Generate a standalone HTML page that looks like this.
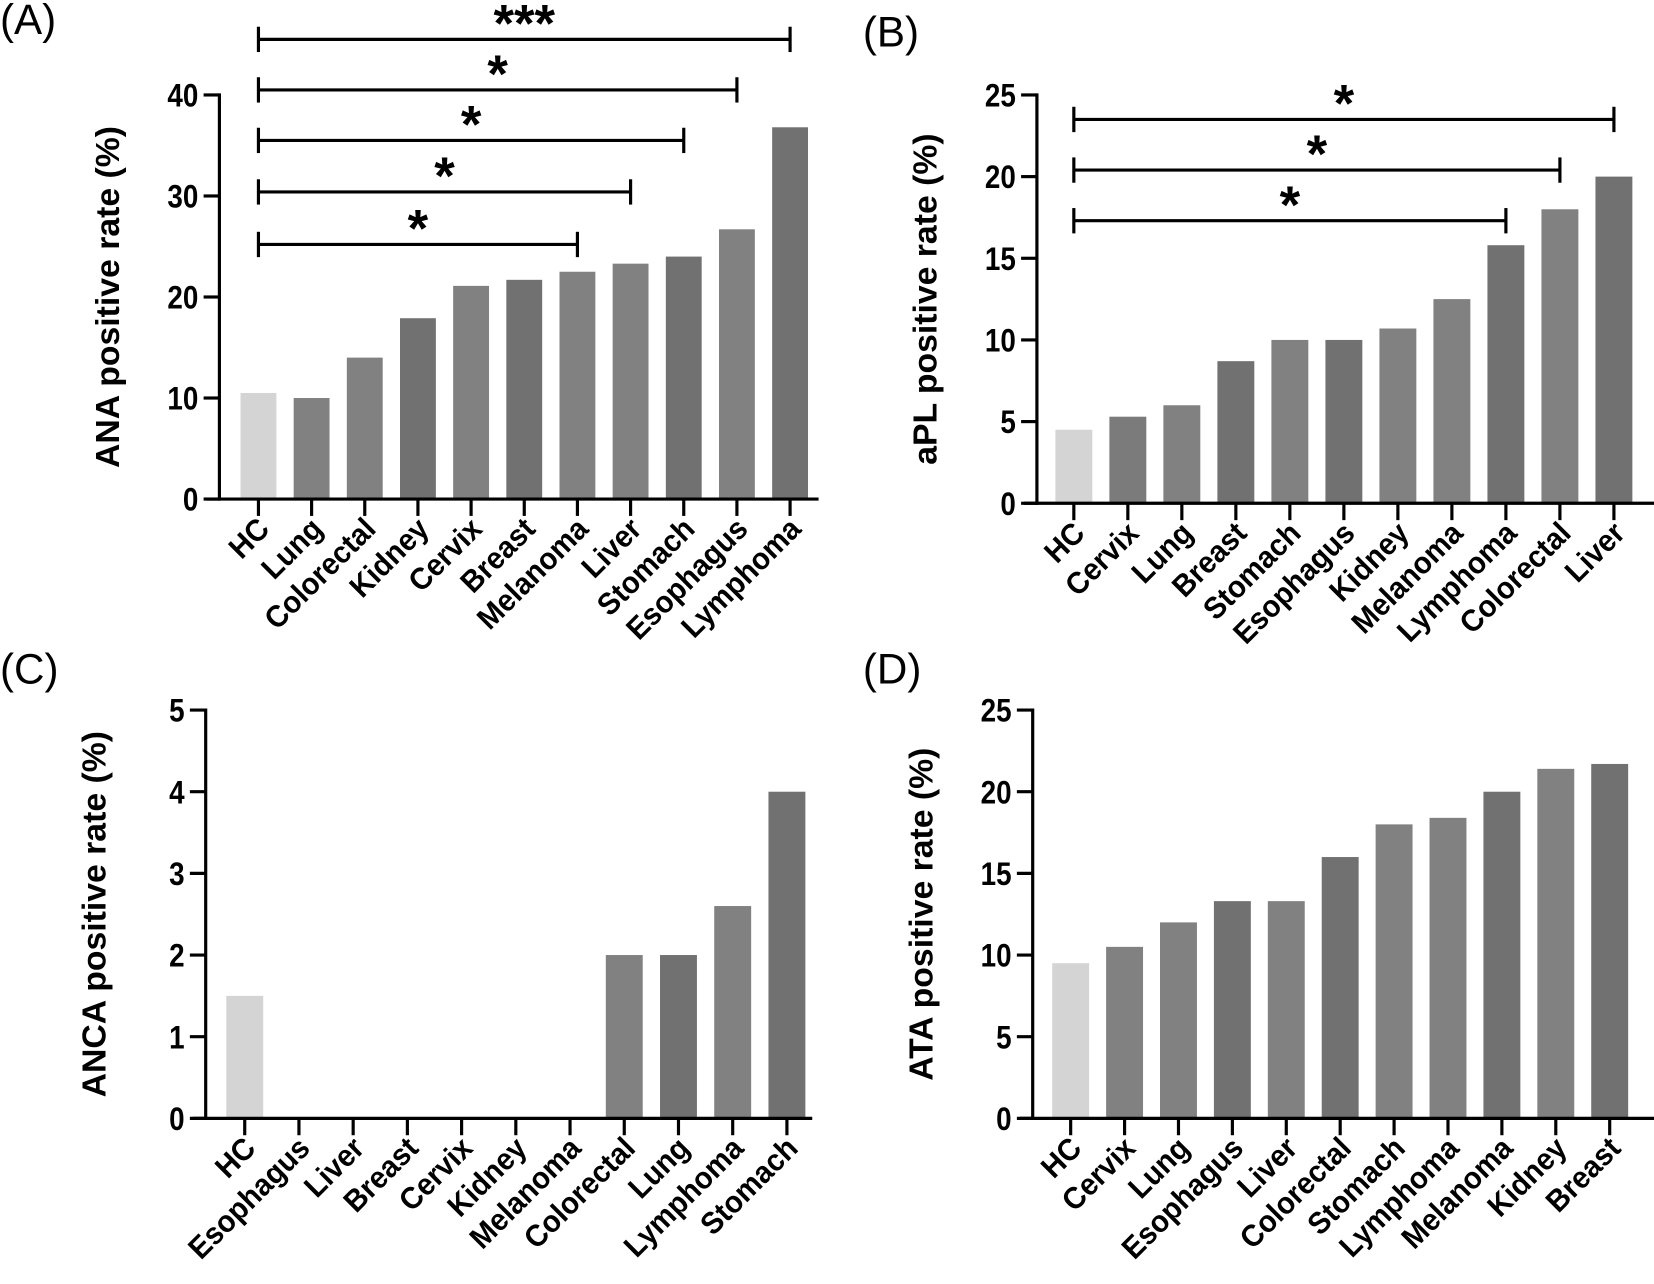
<!DOCTYPE html>
<html><head><meta charset="utf-8"><style>
html,body{margin:0;padding:0;background:#fff}
svg{display:block}
text{font-family:"Liberation Sans",Arial,sans-serif;fill:#000}
</style></head><body>
<svg id="fig" width="1654" height="1284" viewBox="0 0 1568 1217" preserveAspectRatio="none" xmlns="http://www.w3.org/2000/svg"></svg>
<script>
// Panel A
const catsA = ["HC","Lung","Colorectal","Kidney","Cervix","Breast","Melanoma","Liver","Stomach","Esophagus","Lymphoma"];
const valsA = [10.5,10,14,17.9,21.1,21.7,22.5,23.3,24,26.7,36.8];
const shadeA = ["hc","l","l","d","l","d","l","l","d","l","d"];
const ticksA = [0,10,20,30,40];
// brackets: [fromIndex, toIndex, yValue, label]
const brA = [[0,10,45.5,"***"],[0,9,40.5,"*"],[0,8,35.5,"*"],[0,7,30.4,"*"],[0,6,25.2,"*"]];
// Panel B
const catsB = ["HC","Cervix","Lung","Breast","Stomach","Esophagus","Kidney","Melanoma","Lymphoma","Colorectal","Liver"];
const valsB = [4.5,5.3,6,8.7,10,10,10.7,12.5,15.8,18,20];
const shadeB = ["hc","m","l","d","l","d","l","l","d","l","d"];
const ticksB = [0,5,10,15,20,25];
const brB = [[0,10,23.5,"*"],[0,9,20.4,"*"],[0,8,17.3,"*"]];
// Panel C
const catsC = ["HC","Esophagus","Liver","Breast","Cervix","Kidney","Melanoma","Colorectal","Lung","Lymphoma","Stomach"];
const valsC = [1.5,0,0,0,0,0,0,2,2,2.6,4];
const shadeC = ["hc","l","l","l","l","l","l","l","d","l","d"];
const ticksC = [0,1,2,3,4,5];
// Panel D
const catsD = ["HC","Cervix","Lung","Esophagus","Liver","Colorectal","Stomach","Lymphoma","Melanoma","Kidney","Breast"];
const valsD = [9.5,10.5,12,13.3,13.3,16,18,18.4,20,21.4,21.7];
const shadeD = ["hc","l","l","d","l","d","l","l","d","l","d"];
const ticksD = [0,5,10,15,20,25];

const NS="http://www.w3.org/2000/svg";
const svg=document.getElementById('fig');
const colors={hc:"#d4d4d4",l:"#818181",m:"#7b7b7b",d:"#717171"};
function mk(tag,attrs,parent){const e=document.createElementNS(NS,tag);for(const k in attrs)e.setAttribute(k,attrs[k]);(parent||svg).appendChild(e);return e;}

function panel(id,letter,lx,ly,title,cats,vals,shade,ticks,brs,geom){
  const g=mk('g',{});
  
  
  const {ax,y0,yTop,x0,dx,bw,xEnd}=geom;
  const vmax=ticks[ticks.length-1];
  const ys=v=>y0-(y0-yTop)*v/vmax;
  const xs=i=>x0+dx*i;
  const L=mk('text',{x:lx,y:ly,'font-size':40},g);L.textContent='('+letter+')';
  
  
  vals.forEach((v,i)=>{
    const r=mk('rect',{x:xs(i)-bw/2,y:ys(v),width:bw,height:y0-ys(v),fill:colors[shade[i]]},g);
    
    
    const t=mk('line',{x1:xs(i),x2:xs(i),y1:y0,y2:y0+16,stroke:'#000','stroke-width':3},g);
    
    
    const lb=mk('text',{x:0,y:0,'font-size':29,'font-weight':'bold','text-anchor':'end',transform:`translate(${xs(i)+12},${y0+30}) rotate(-45) scale(0.95,1)`},g);
    lb.textContent=cats[i];
    
    
  });
  const xa=mk('line',{x1:ax-12,x2:xEnd,y1:y0,y2:y0,stroke:'#000','stroke-width':3},g);
  
  
  const ya=mk('line',{x1:ax,x2:ax,y1:yTop-1.5,y2:y0+1.5,stroke:'#000','stroke-width':3},g);
  
  
  ticks.forEach(v=>{
    const t=mk('line',{x1:ax-15,x2:ax,y1:ys(v),y2:ys(v),stroke:'#000','stroke-width':3},g);
    
    
    const tl=mk('text',{x:0,y:0,'font-size':31,'font-weight':'bold','text-anchor':'end',transform:`translate(${ax-20},${ys(v)+11}) scale(0.85,1)`},g);
    tl.textContent=v;
    
    
  });
  const ti=mk('text',{x:0,y:0,'font-size':32,'font-weight':'bold','text-anchor':'middle',transform:`translate(${ax-95},${(y0+yTop)/2}) rotate(-90)`},g);
  ti.textContent=title;
  
  
  (brs||[]).forEach(b=>{
    const [a,c,v,s]=b;const y=ys(v);const x1=xs(a);const x2=xs(c);
    const bg=mk('g',{},g);
    
    
    mk('line',{x1:x1,x2:x2,y1:y,y2:y,stroke:'#000','stroke-width':3},bg);
    mk('line',{x1:x1,x2:x1,y1:y-12,y2:y+12,stroke:'#000','stroke-width':3},bg);
    mk('line',{x1:x2,x2:x2,y1:y-12,y2:y+12,stroke:'#000','stroke-width':3},bg);
    const st=mk('text',{x:(x1+x2)/2,y:y+2,'font-size':50,'font-weight':'bold','text-anchor':'middle'},bg);
    st.textContent=s;
  });
}
panel('a','A',0,32,'ANA positive rate (%)',catsA,valsA,shadeA,ticksA,brA,{ax:208,y0:473,yTop:90,x0:245,dx:50.4,bw:34,xEnd:776});
panel('b','B',818,44,'aPL positive rate (%)',catsB,valsB,shadeB,ticksB,brB,{ax:983,y0:477,yTop:90,x0:1018,dx:51.2,bw:35,xEnd:1568});
panel('c','C',0,648,'ANCA positive rate (%)',catsC,valsC,shadeC,ticksC,[],{ax:195,y0:1060,yTop:673,x0:232,dx:51.4,bw:35,xEnd:770});
panel('d','D',818,648,'ATA positive rate (%)',catsD,valsD,shadeD,ticksD,[],{ax:979,y0:1060,yTop:673,x0:1015,dx:51.1,bw:35,xEnd:1568});
</script>
</body></html>
